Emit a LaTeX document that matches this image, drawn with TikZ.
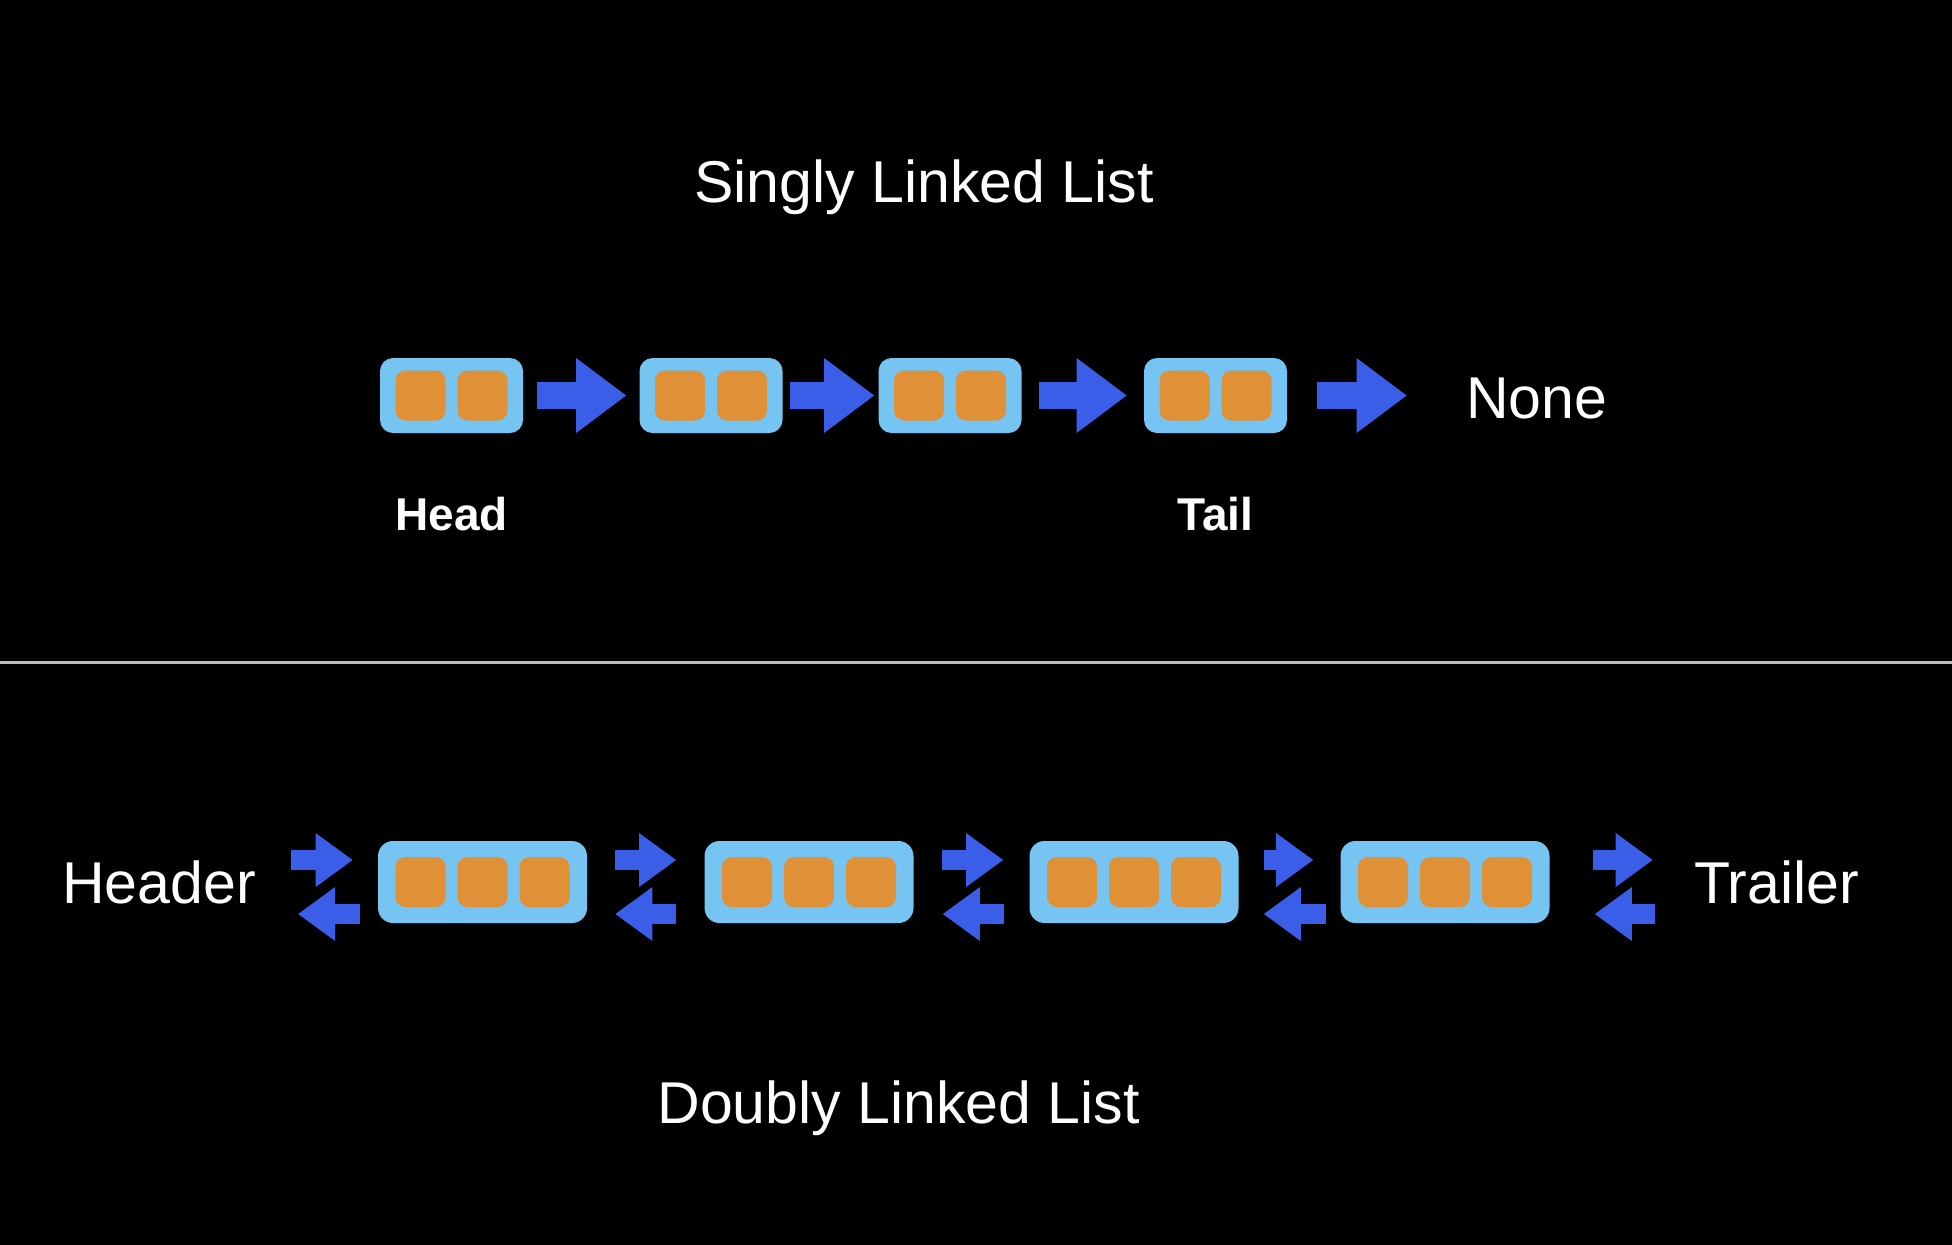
\documentclass[tikz,border=0pt]{standalone}
\usepackage{fontspec}
\setmainfont{Liberation Sans}
\usetikzlibrary{arrows.meta,positioning}
\definecolor{boxblue}{HTML}{76C4F1}
\definecolor{cellorange}{HTML}{E09036}
\definecolor{arrowblue}{HTML}{3A5EE8}
\definecolor{rulegray}{HTML}{BEBEBE}

\begin{document}
\begin{tikzpicture}[x=0.5pt, y=-0.5pt,
	title/.style={text=white, inner sep=0pt, font=\fontsize{29.5pt}{35pt}\selectfont},
	lbl/.style={text=white, inner sep=0pt, font=\fontsize{23pt}{28pt}\selectfont\bfseries},
	snode/.style={fill=boxblue, rounded corners=6.5pt, minimum width=71.5pt, minimum height=37.5pt, inner sep=0pt},
	dnode/.style={snode, minimum width=104.5pt, minimum height=41pt, rounded corners=7.5pt},
	cell/.style={fill=cellorange, rounded corners=5pt, minimum size=25pt, inner sep=0pt},
	sarrow/.style={arrowblue, line width=13.5pt, -{Triangle[length=25pt, width=37.5pt, line width=0pt]}},
	darrow/.style={arrowblue, line width=10pt, -{Triangle[length=18.5pt, width=27pt, line width=0pt]}}]
				\useasboundingbox (0,0) rectangle (1952,1244);
				\fill[black] (-10,-10) rectangle (1962,1254);

				% singly linked list
				\node[title, anchor=base] (stitle) at (924,202) {Singly Linked List};
				\foreach \n/\x in {s1/451.5, s2/711, s3/950, s4/1215.5} {
					\node[snode] (\n) at (\x,395.5) {};
					\node[cell] (\n-a) at ([xshift=-15.5pt]\n.center) {};
					\node[cell] (\n-b) at ([xshift=15.5pt]\n.center) {};
				}
				\node[title] (none) at (1536.5,398) {None};
				\node[lbl, anchor=base] (head) at ([yshift=-48.5pt]s1.south) {Head};
				\node[lbl, anchor=base] (tail) at ([yshift=-48.5pt]s4.south) {Tail};

				\path	(s1) edge[sarrow, shorten <=7pt, shorten >=6.5pt] (s2)
						(s2) edge[sarrow, shorten <=3.5pt, shorten >=2pt] (s3)
						(s3) edge[sarrow, shorten <=8.5pt, shorten >=8.5pt] (s4)
						(s4.east) edge[sarrow, shorten <=15pt, shorten >=29.5pt] (s4.east -| none.west);

				\draw[rulegray, line width=1.5pt] (0,662.5) -- (1952,662.5);

				% doubly linked list
				\foreach \n/\x in {d1/482.5, d2/809, d3/1134, d4/1445} {
					\node[dnode] (\n) at (\x,882) {};
					\foreach \k/\dx in {a/-31pt, b/0pt, c/31pt}
						\node[cell] (\n-\k) at ([xshift=\dx]\n.center) {};
				}
				\node[title] (hdr) at (159,882) {Header};
				\node[title] (trl) at (1776.5,882) {Trailer};
				\node[title, anchor=base] (dtitle) at (898.5,1123) {Doubly Linked List};

				\path	([yshift=11pt]hdr.east) edge[darrow, shorten <=17.5pt, shorten >=12.5pt] ([yshift=11pt]d1.west)
						([yshift=-16pt]d1.west) edge[darrow, shorten <=9pt, shorten >=21pt] ([yshift=-16pt]hdr.east)
						([yshift=11pt]d1.east) edge[darrow, shorten <=14pt, shorten >=14pt] ([yshift=11pt]d2.west)
						([yshift=-16pt]d2.west) edge[darrow, shorten <=14pt, shorten >=14pt] ([yshift=-16pt]d1.east)
						([yshift=11pt]d2.east) edge[darrow, shorten <=14pt, shorten >=13pt] ([yshift=11pt]d3.west)
						([yshift=-16pt]d3.west) edge[darrow, shorten <=12.5pt, shorten >=14.5pt] ([yshift=-16pt]d2.east)
						([yshift=11pt]d3.east) edge[darrow, shorten <=12.5pt, shorten >=13.5pt] ([yshift=11pt]d4.west)
						([yshift=-16pt]d4.west) edge[darrow, shorten <=7pt, shorten >=12.5pt] ([yshift=-16pt]d3.east)
						([yshift=11pt]d4.east) edge[darrow, shorten <=21.5pt, shorten >=20.5pt] ([yshift=11pt]trl.west)
						([yshift=-16pt]trl.west) edge[darrow, shorten <=19.5pt, shorten >=22.5pt] ([yshift=-16pt]d4.east);

			\end{tikzpicture}
\end{document}
